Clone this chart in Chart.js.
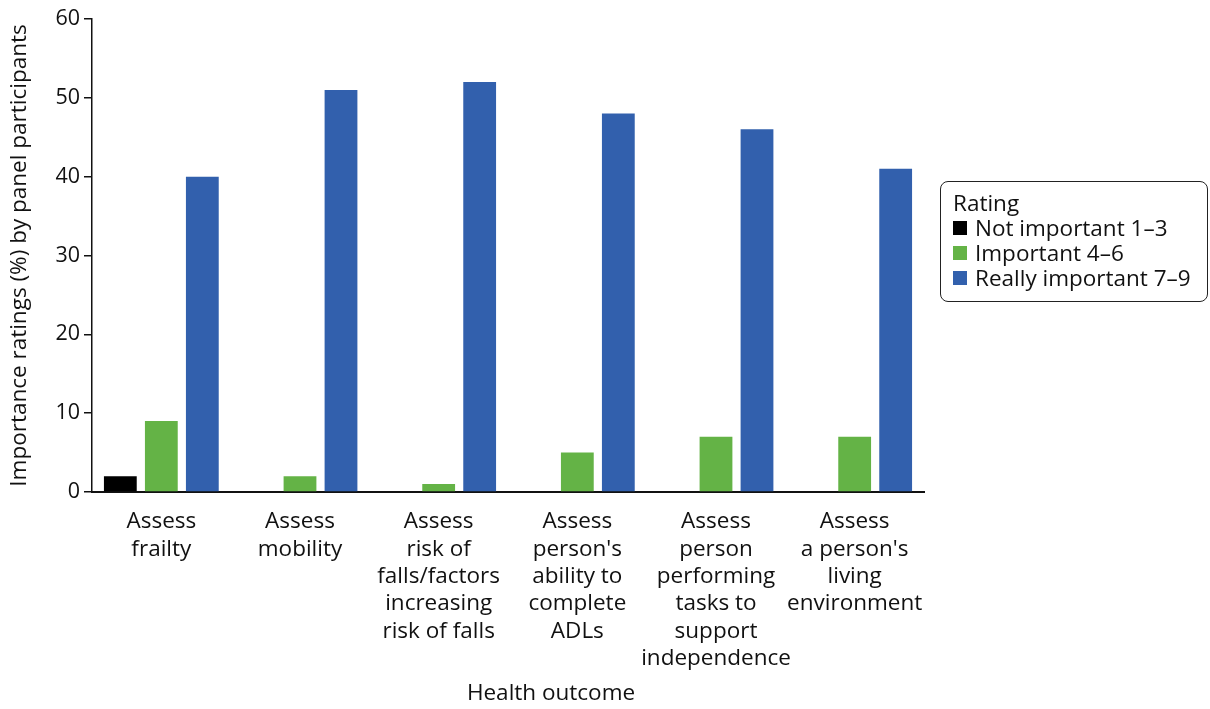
<!DOCTYPE html>
<html>
<head>
    <title>Importance ratings by health outcome</title>
    <script src="https://cdn.jsdelivr.net/npm/chart.js"></script>
    <style>
        body {
            margin: 0;
            background: #ffffff;
            font-family: 'Open Sans', sans-serif;
        }
        .wrap {
            position: relative;
            width: 1210px;
            height: 709px;
        }
        .legend {
            position: absolute;
            left: 940px;
            top: 181px;
            width: 268px;
            height: 121px;
            border: 1.5px solid #222;
            border-radius: 8px;
            font-size: 22.5px;
            color: #111;
            box-sizing: border-box;
            padding: 8px 0 0 12px;
            line-height: 25px;
        }
        .legend .row { display: flex; align-items: center; }
        .legend .sw { width: 14px; height: 14px; margin-right: 8px; }
    </style>
</head>
<body>
    <div class="wrap">
        <canvas id="chart" width="1210" height="709"></canvas>
        <!-- legend drawn as html so the box can sit where the original has it -->
        <div class="legend" id="legend"></div>
    </div>

    <script>
        const categories = [
            ['Assess', 'frailty'],
            ['Assess', 'mobility'],
            ['Assess', 'risk of', 'falls/factors', 'increasing', 'risk of falls'],
            ['Assess', "person's", 'ability to', 'complete', 'ADLs'],
            ['Assess', 'person', 'performing', 'tasks to', 'support', 'independence'],
            ['Assess', "a person's", 'living', 'environment']
        ];
        const seriesNames = ['Not important 1\u20133', 'Important 4\u20136', 'Really important 7\u20139'];
        const notImportant = [2, 0, 0, 0, 0, 0];
        const important = [9, 2, 1, 5, 7, 7];
        const reallyImportant = [40, 51, 52, 48, 46, 41];
        const colors = ['#000000', '#64b346', '#3260ad'];
        const yTicks = [0, 10, 20, 30, 40, 50, 60];

        const family = "'Open Sans', sans-serif";
        const labelFont = {family: family, size: 22.5, lineHeight: 1.22};
        const tickFont = {family: family, size: 21.5};

        // x axis title sits off-centre in the original, so draw it by hand
        const xTitlePlugin = {
            id: 'xTitle',
            afterDraw(chart) {
                const ctx = chart.ctx;
                ctx.save();
                ctx.font = `22.5px ${family}`;
                ctx.fillStyle = '#111';
                ctx.textAlign = 'center';
                ctx.textBaseline = 'middle';
                ctx.fillText('Health outcome', 551, 694);
                ctx.restore();
            }
        };

        const chart = new Chart(document.getElementById('chart'), {
            type: 'bar',
            data: {
                labels: categories,
                datasets: [notImportant, important, reallyImportant].map((d, i) => ({
                    label: seriesNames[i],
                    data: d,
                    backgroundColor: colors[i],
                    borderWidth: 0,
                    categoryPercentage: 0.887,
                    barPercentage: 0.8
                }))
            },
            options: {
                responsive: false,
                animation: false,
                layout: {padding: {left: 0, right: 286, top: 19, bottom: 0}},
                plugins: {
                    legend: {display: false},
                    tooltip: {enabled: false}
                },
                scales: {
                    x: {
                        grid: {display: false},
                        border: {display: true, color: '#111', width: 2},
                        ticks: {color: '#111', font: labelFont, padding: 8, maxRotation: 0, autoSkip: false},
                        afterFit(scale) { scale.height = 709 - 492; }
                    },
                    y: {
                        min: 0,
                        max: 60,
                        afterBuildTicks(scale) { scale.ticks = yTicks.map(v => ({value: v})); },
                        grid: {drawOnChartArea: false, drawTicks: true, tickLength: 8, color: '#111', lineWidth: 1.5},
                        border: {display: true, color: '#111', width: 1.5},
                        ticks: {color: '#111', font: tickFont, padding: 4},
                        title: {
                            display: true,
                            text: 'Importance ratings (%) by panel participants',
                            color: '#111',
                            font: labelFont,
                            padding: {top: 6, bottom: 4}
                        },
                        afterFit(scale) { scale.width = 92; }
                    }
                }
            },
            plugins: [xTitlePlugin]
        });

        // legend
        const legend = document.getElementById('legend');
        let html = '<div>Rating</div>';
        seriesNames.forEach((n, i) => {
            html += `<div class="row"><span class="sw" style="background:${colors[i]}"></span>${n}</div>`;
        });
        legend.innerHTML = html;
    </script>
</body>
</html>
